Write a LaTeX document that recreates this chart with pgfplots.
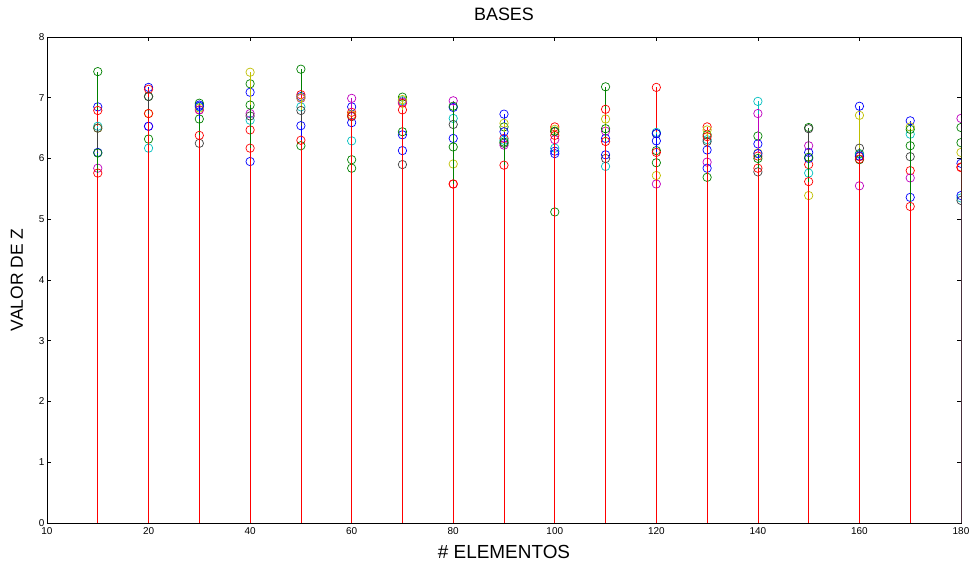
\documentclass[border=0pt]{standalone}
\usepackage{pgfplots}
\usepackage{pgfplotstable}
\pgfplotsset{compat=1.18}
\usepackage{fontspec}
\setmainfont{Liberation Sans}
\definecolor{mb}{rgb}{0,0,1}
\definecolor{mg}{rgb}{0,0.5,0}
\definecolor{mr}{rgb}{1,0,0}
\definecolor{mc}{rgb}{0,0.75,0.75}
\definecolor{mm}{rgb}{0.75,0,0.75}
\definecolor{my}{rgb}{0.75,0.75,0}
\definecolor{mk}{rgb}{0.25,0.25,0.25}
\pgfplotstableread{
x   s1   s2   s3   s4   s5   s6   s7   s8   s9   s10
10  6.85 7.43 6.79 6.53 5.84 6.50 6.50 6.10 6.09 5.76
20  7.17 7.02 7.14 6.17 6.53 6.74 7.02 6.53 6.32 6.74
30  6.88 6.91 6.80 6.85 6.80 6.83 6.25 6.86 6.65 6.38
40  7.09 7.23 6.47 6.63 6.74 7.42 6.70 5.95 6.88 6.17
50  7.02 7.47 7.05 6.85 6.99 7.00 6.79 6.54 6.21 6.30
60  6.85 5.98 6.76 6.29 6.99 6.72 6.69 6.59 5.84 6.70
70  6.39 7.01 6.91 6.95 6.93 6.97 5.90 6.13 6.44 6.80
80  6.33 6.19 5.58 6.66 6.95 5.91 6.56 6.84 6.86 5.58
90  6.73 6.52 6.33 6.30 6.22 6.58 6.25 6.44 6.27 5.89
100 6.12 5.12 6.52 6.17 6.31 6.48 6.44 6.08 6.45 6.38
110 6.33 7.18 6.81 5.87 6.45 6.65 6.00 6.06 6.49 6.28
120 6.29 6.13 7.17 6.43 5.58 5.72 6.41 6.41 5.93 6.10
130 6.14 6.39 6.52 6.31 5.94 6.47 6.28 5.84 5.69 6.36
140 6.24 6.37 6.04 6.94 6.74 6.09 5.78 6.08 6.00 5.84
150 6.10 6.51 5.90 5.76 6.21 5.39 6.49 6.00 6.02 5.62
160 6.86 6.08 6.03 6.07 5.55 6.71 6.17 6.04 5.98 5.99
170 6.62 6.21 5.80 6.40 5.68 6.52 6.03 5.36 6.48 5.21
180 5.92 6.26 5.85 5.35 6.66 6.10 5.31 5.39 6.51 5.86
}\data
\begin{document}
\begin{tikzpicture}
\begin{axis}[
  name=ax,
  scale only axis,
  width=914bp, height=486bp,
  xmin=0, xmax=180, ymin=0, ymax=8,
  xtick={0,20,...,180},
  xticklabels={10,20,40,60,80,100,120,140,160,180},
  ytick={0,1,...,8},
  tick align=inside,
  major tick length=4bp,
  tick style={black, line width=0.6pt},
  axis line style={black, line width=0.8pt},
  ticklabel style={font=\fontsize{10}{12}\selectfont},
  /pgf/number format/assume math mode=true,
  xticklabel style={yshift=-1.5bp},
  yticklabel style={xshift=1bp},
  title={BASES},
  title style={font=\fontsize{18}{21}\selectfont, at={(axis description cs:0.5,1.035)}, anchor=center},
  xlabel={\# ELEMENTOS},
  ylabel={VALOR DE Z},
  xlabel style={font=\fontsize{19}{22}\selectfont, at={(axis description cs:0.5,-0.0597)}, anchor=center},
  ylabel style={font=\fontsize{17.5}{20}\selectfont, at={(axis description cs:-0.033,0.5)}, anchor=center},
  clip marker paths=true,
  every axis plot/.append style={ycomb, line width=0.6pt, mark=o,
     mark size=4.2bp, mark options={line width=0.7pt, solid}},
]
\addplot[mb] table[x=x,y=s1]{\data};
\addplot[mg] table[x=x,y=s2]{\data};
\addplot[mr] table[x=x,y=s3]{\data};
\addplot[mc] table[x=x,y=s4]{\data};
\addplot[mm] table[x=x,y=s5]{\data};
\addplot[my] table[x=x,y=s6]{\data};
\addplot[mk] table[x=x,y=s7]{\data};
\addplot[mb] table[x=x,y=s8]{\data};
\addplot[mg] table[x=x,y=s9]{\data};
\addplot[mr] table[x=x,y=s10]{\data};
\end{axis}
\pgfresetboundingbox
\path[use as bounding box] ([shift={(-47bp,-42bp)}]ax.south west) rectangle ([shift={(8bp,37bp)}]ax.north east);
\end{tikzpicture}
\end{document}
